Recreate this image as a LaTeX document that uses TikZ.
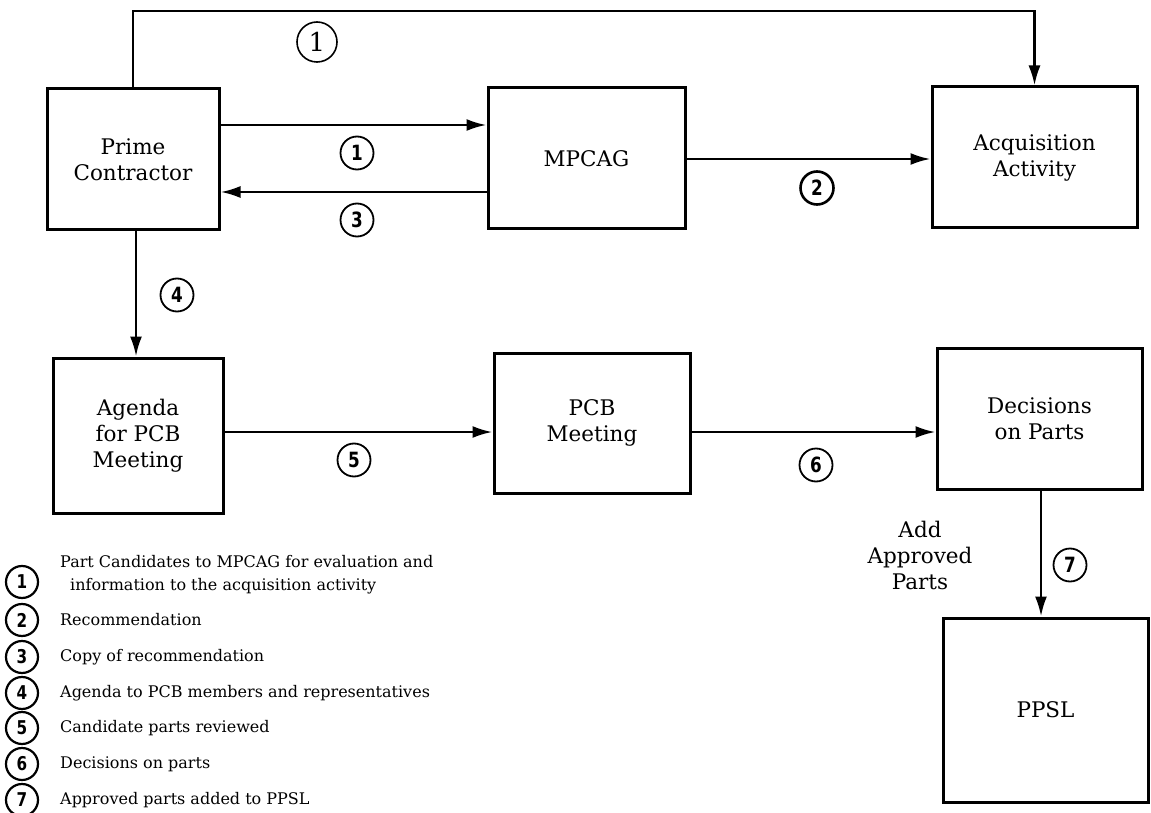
\documentclass[tikz,border=0pt]{standalone}
\usepackage{fontspec}
\setmainfont{DejaVu Serif}
\setsansfont{DejaVu Sans}
\newfontfamily\numfont[FakeStretch=0.8]{DejaVu Sans}
\usetikzlibrary{arrows.meta}
\begin{document}
\begin{tikzpicture}[x=1pt,y=-1pt,
  blk/.style={draw, line width=3pt, inner sep=0pt, align=center,
    font=\fontsize{21.5}{26}\selectfont},
  flow/.style={line width=2.6pt, -{Latex[length=20pt,width=12pt]}},
  num/.style={draw, circle, line width=1.8pt, minimum size=33pt, inner sep=0pt,
    font=\numfont\bfseries\fontsize{21}{21}\selectfont},
  bignum/.style={num, minimum size=40pt, line width=1.6pt,
    font=\fontsize{26}{26}\selectfont},
  lnum/.style={num, minimum size=32pt, line width=2.2pt,
    font=\numfont\bfseries\fontsize{19}{19}\selectfont},
  legtext/.style={anchor=west, inner sep=0pt, font=\fontsize{16}{24}\selectfont},
  note/.style={align=center, inner sep=0pt, font=\fontsize{21.5}{26}\selectfont}
]
\useasboundingbox (0,0) rectangle (1151,813);

% process boxes
\node[blk, minimum width=172pt, minimum height=141pt] (prime)  at (133,159.5)  {Prime\\Contractor};
\node[blk, minimum width=197pt, minimum height=141pt] (mpcag)  at (586.5,158.5) {MPCAG};
\node[blk, minimum width=205pt, minimum height=141pt] (acq)    at (1034.5,157.5) {Acquisition\\Activity};
\node[blk, minimum width=170pt, minimum height=155pt] (agenda) at (138,435.5)  {Agenda\\for PCB\\Meeting};
\node[blk, minimum width=196pt, minimum height=140pt] (pcb)    at (592,423)    {PCB\\Meeting};
\node[blk, minimum width=205pt, minimum height=141pt] (dec)    at (1039.5,418.5) {Decisions\\on Parts};
\node[blk, minimum width=205pt, minimum height=184pt] (ppsl)   at (1045.5,710) {PPSL};

% routing levels
\coordinate (top) at (0,11);
\coordinate (r1) at (0,125);
\coordinate (r2) at (0,159);
\coordinate (r3) at (0,192);
\coordinate (r5) at (0,432);
\coordinate (c4) at (136,0);
\coordinate (c7) at (1041,0);

% connectors
\draw[flow] (prime.north) -- (prime.north |- top) -- (acq.north |- top) -- (acq.north);
\draw[flow] (prime.east |- r1) -- (mpcag.west |- r1);
\draw[flow] (mpcag.west |- r3) -- (prime.east |- r3);
\draw[flow] (mpcag.east |- r2) -- (acq.west |- r2);
\draw[flow] (prime.south -| c4) -- (agenda.north -| c4);
\draw[flow] (agenda.east |- r5) -- (pcb.west |- r5);
\draw[flow] (pcb.east |- r5) -- (dec.west |- r5);
\draw[flow] (dec.south -| c7) -- (ppsl.north -| c7);

% connector labels
\node[bignum] (n1top) at (317,42) {1};
\node[num] (n1) at (357,153) {1};
\node[num] (n3) at (357,220) {3};
\node[num, line width=2.6pt] (n2) at (817,188) {2};
\node[num] (n4) at (177,295) {4};
\node[num] (n5) at (354,460) {5};
\node[num] (n6) at (816,465) {6};
\node[num] (n7) at (1070,565) {7};
\node[note] (add) at (920,555) {Add\\Approved\\Parts};

% legend
\node[lnum] (l1) at (22,582) {1};
\node[lnum] (l2) at (22,620) {2};
\node[lnum] (l3) at (22,657) {3};
\node[lnum] (l4) at (22,693) {4};
\node[lnum] (l5) at (22,728) {5};
\node[lnum] (l6) at (22,764) {6};
\node[lnum] (l7) at (22,800) {7};
\node[legtext] (t1a) at (60,562) {Part Candidates to MPCAG for evaluation and};
\node[legtext] (t1b) at (70,586) {information to the acquisition activity};
\node[legtext] (t2) at (60,620) {Recommendation};
\node[legtext] (t3) at (60,657) {Copy of recommendation};
\node[legtext] (t4) at (60,693) {Agenda to PCB members and representatives};
\node[legtext] (t5) at (60,728) {Candidate parts reviewed};
\node[legtext] (t6) at (60,764) {Decisions on parts};
\node[legtext] (t7) at (60,800) {Approved parts added to PPSL};
\end{tikzpicture}
\end{document}
